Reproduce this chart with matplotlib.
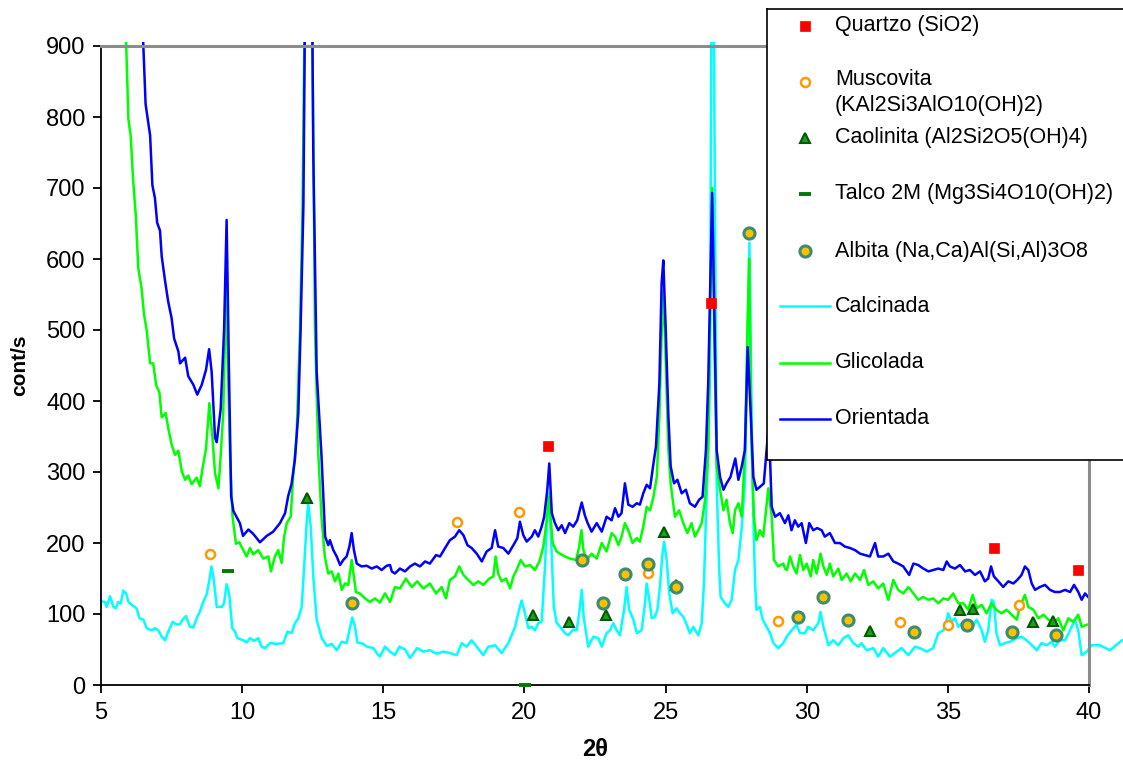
import matplotlib.pyplot as plt
from matplotlib.patches import Rectangle

plt.rcParams['font.family'] = ['Liberation Sans', 'DejaVu Sans']

# --- diffractograms (2theta, counts per second) ---
calc_2t = [5.00, 5.14, 5.20, 5.32, 5.44, 5.53, 5.61, 5.70, 5.79, 5.89, 5.97, 6.09, 6.26, 6.36, 6.50,
           6.62, 6.80, 6.91, 7.03, 7.15, 7.27, 7.38, 7.54, 7.68, 7.80, 7.89, 8.01, 8.15, 8.27, 8.41,
           8.50, 8.62, 8.74, 8.84, 8.91, 8.98, 9.10, 9.28, 9.36, 9.45, 9.54, 9.65, 9.75, 9.83, 10.04,
           10.16, 10.28, 10.42, 10.57, 10.69, 10.81, 10.99, 11.22, 11.46, 11.60, 11.75, 11.87, 11.99,
           12.11, 12.19, 12.29, 12.34, 12.43, 12.52, 12.64, 12.82, 13.00, 13.17, 13.35, 13.53, 13.70,
           13.80, 13.90, 14.00, 14.08, 14.29, 14.41, 14.65, 14.77, 14.88, 15.06, 15.24, 15.41, 15.57,
           15.77, 15.95, 16.20, 16.42, 16.65, 16.89, 17.13, 17.36, 17.60, 17.78, 17.95, 18.13, 18.31,
           18.54, 18.72, 18.96, 19.19, 19.43, 19.67, 19.78, 19.90, 20.02, 20.14, 20.26, 20.37, 20.49,
           20.61, 20.73, 20.79, 20.86, 20.96, 21.04, 21.14, 21.26, 21.44, 21.55, 21.73, 21.85, 21.94,
           22.03, 22.10, 22.26, 22.44, 22.62, 22.74, 22.91, 23.03, 23.15, 23.27, 23.38, 23.53, 23.62,
           23.71, 23.86, 23.98, 24.15, 24.27, 24.33, 24.41, 24.51, 24.62, 24.71, 24.80, 24.88, 24.95,
           25.04, 25.13, 25.25, 25.39, 25.51, 25.63, 25.75, 25.86, 25.98, 26.16, 26.28, 26.36, 26.43,
           26.51, 26.57, 26.63, 26.70, 26.81, 26.90, 26.95, 27.10, 27.22, 27.34, 27.46, 27.58, 27.70,
           27.81, 27.90, 27.97, 28.08, 28.17, 28.22, 28.34, 28.44, 28.58, 28.70, 28.82, 28.99, 29.17,
           29.29, 29.46, 29.64, 29.76, 29.94, 30.05, 30.23, 30.41, 30.49, 30.59, 30.77, 30.94, 31.12,
           31.30, 31.47, 31.65, 31.83, 31.94, 32.12, 32.36, 32.53, 32.71, 32.95, 33.19, 33.36, 33.60,
           33.84, 34.01, 34.25, 34.48, 34.66, 34.84, 34.96, 35.01, 35.13, 35.25, 35.37, 35.55, 35.72,
           35.84, 36.02, 36.20, 36.31, 36.43, 36.55, 36.63, 36.72, 36.85, 37.02, 37.20, 37.44, 37.61,
           37.79, 38.03, 38.15, 38.32, 38.50, 38.68, 38.79, 38.97, 39.15, 39.33, 39.50, 39.62, 39.74,
           39.92, 40.09, 40.39, 40.74, 41.17]
calc_cps = [118, 117, 110, 125, 110, 108, 117, 115, 133, 129, 117, 113, 108, 94, 92,
            80, 77, 80, 77, 68, 63, 75, 89, 85, 86, 92, 97, 82, 81, 96,
            103, 117, 127, 148, 167, 153, 110, 110, 115, 142, 129, 80, 75, 66, 63,
            60, 66, 62, 66, 54, 52, 59, 58, 59, 75, 73, 87, 94,
            110, 162, 232, 256, 223, 153, 92, 66, 55, 58, 49, 61, 59,
            77, 95, 82, 60, 58, 54, 52, 45, 40, 54, 47, 42, 54,
            50, 38, 52, 47, 49, 44, 47, 45, 42, 59, 54, 63, 54,
            42, 54, 56, 45, 59, 82, 101, 119, 101, 80, 82, 77, 87,
            89, 167, 228, 270, 190, 110, 88, 82, 73, 70, 78, 77, 101,
            134, 95, 54, 68, 66, 54, 73, 77, 87, 77, 70, 106, 138,
            106, 92, 73, 77, 115, 143, 124, 94, 96, 106, 138, 181, 202,
            176, 129, 101, 108, 101, 96, 85, 73, 82, 70, 87, 143, 237,
            331, 425, 1000, 1000, 284, 162, 124, 115, 110, 120, 162, 176, 223,
            284, 472, 623, 284, 143, 106, 110, 92, 82, 73, 59, 52, 59,
            68, 77, 85, 73, 73, 82, 77, 87, 103, 82, 56, 63, 56,
            66, 70, 59, 54, 59, 49, 52, 40, 52, 40, 47, 52, 42,
            54, 52, 47, 52, 73, 77, 92, 101, 89, 94, 82, 89, 87,
            80, 92, 77, 61, 77, 120, 117, 73, 56, 59, 61, 66, 68,
            63, 54, 49, 59, 56, 61, 54, 63, 63, 77, 92, 77, 42,
            47, 56, 56, 49, 63]

glic_2t = [5.85, 5.97, 6.05, 6.14, 6.23, 6.32, 6.44, 6.52, 6.62, 6.74, 6.85, 6.95, 7.07, 7.15, 7.29,
           7.38, 7.50, 7.62, 7.74, 7.86, 7.98, 8.09, 8.21, 8.39, 8.50, 8.60, 8.72, 8.84, 8.95, 9.04,
           9.16, 9.24, 9.33, 9.43, 9.57, 9.66, 9.78, 9.90, 10.04, 10.16, 10.28, 10.39, 10.57, 10.75,
           10.93, 11.02, 11.16, 11.28, 11.40, 11.48, 11.58, 11.72, 11.81, 11.93, 12.05, 12.14, 12.36,
           12.58, 12.70, 12.81, 12.93, 13.05, 13.17, 13.29, 13.41, 13.53, 13.64, 13.76, 13.88,
           14.03, 14.17, 14.35, 14.53, 14.71, 14.88, 15.06, 15.24, 15.41, 15.59, 15.80, 16.01, 16.20,
           16.42, 16.65, 16.87, 17.07, 17.22, 17.36, 17.54, 17.69, 17.84, 18.01, 18.19, 18.37, 18.54,
           18.76, 18.90, 18.98, 19.07, 19.19, 19.35, 19.49, 19.61, 19.72, 19.87, 20.02, 20.20, 20.37,
           20.53, 20.67, 20.79, 20.87, 21.00, 21.14, 21.26, 21.44, 21.62, 21.83, 21.94, 22.02, 22.09,
           22.20, 22.38, 22.56, 22.74, 22.91, 23.09, 23.21, 23.33, 23.44, 23.56, 23.68, 23.83, 23.98,
           24.09, 24.21, 24.33, 24.45, 24.57, 24.69, 24.78, 24.86, 24.93, 25.01, 25.10, 25.18, 25.33,
           25.48, 25.63, 25.77, 25.92, 26.04, 26.16, 26.28, 26.40, 26.51, 26.58, 26.65, 26.72, 26.81,
           26.93, 27.05, 27.16, 27.28, 27.38, 27.46, 27.58, 27.70, 27.81, 27.91, 27.96, 28.05, 28.13,
           28.22, 28.34, 28.46, 28.56, 28.64, 28.76, 28.84, 28.99, 29.17, 29.23, 29.30, 29.41, 29.52,
           29.64, 29.76, 29.88, 30.00, 30.14, 30.23, 30.35, 30.49, 30.59, 30.71, 30.82, 30.94, 31.12,
           31.24, 31.41, 31.56, 31.71, 31.89, 32.03, 32.18, 32.36, 32.53, 32.71, 32.89, 33.07, 33.24,
           33.42, 33.60, 33.78, 33.95, 34.13, 34.31, 34.48, 34.66, 34.84, 35.01, 35.19, 35.37, 35.55,
           35.72, 35.88, 36.02, 36.20, 36.37, 36.55, 36.72, 36.90, 37.08, 37.26, 37.44, 37.55, 37.73,
           37.85, 38.03, 38.21, 38.39, 38.56, 38.74, 38.91, 39.09, 39.27, 39.44, 39.62, 39.74, 39.92]
glic_cps = [960, 797, 774, 710, 663, 587, 558, 523, 499, 453, 453, 423, 412, 377, 383,
            362, 339, 324, 330, 301, 289, 295, 283, 292, 280, 306, 333, 397, 347, 298,
            277, 324, 383, 560, 324, 237, 199, 201, 190, 181, 193, 184, 190, 178,
            181, 160, 181, 190, 172, 207, 228, 237, 295, 353, 500, 675, 1500,
            499, 324, 237, 180, 157, 160, 146, 157, 134, 143, 141, 176,
            131, 129, 122, 117, 122, 116, 129, 117, 138, 136, 150, 138, 146,
            136, 143, 129, 138, 122, 148, 153, 167, 155, 148, 141, 146, 141,
            150, 153, 181, 157, 146, 150, 136, 153, 162, 176, 167, 169, 162,
            174, 195, 232, 265, 200, 188, 185, 181, 178, 176, 195, 218, 190,
            176, 185, 178, 200, 188, 214, 209, 197, 209, 228, 218, 200, 207,
            202, 223, 251, 246, 265, 293, 378, 495, 555, 448, 331, 284, 237,
            246, 228, 214, 228, 209, 218, 228, 261, 331, 520, 700, 500, 308,
            275, 246, 261, 228, 214, 246, 256, 237, 331, 519, 600, 331, 237,
            204, 218, 209, 246, 277, 237, 176, 167, 171, 164, 162, 181, 167,
            157, 183, 162, 171, 153, 176, 157, 185, 167, 155, 171, 153, 164,
            148, 157, 146, 157, 148, 162, 141, 146, 136, 143, 120, 148, 134,
            129, 138, 129, 120, 124, 120, 122, 115, 122, 120, 129, 115, 115,
            106, 127, 108, 113, 101, 115, 106, 101, 106, 99, 92, 110, 127,
            110, 106, 94, 99, 92, 87, 94, 77, 94, 89, 99, 82, 85]

orie_2t = [6.45, 6.50, 6.58, 6.74, 6.82, 6.91, 6.99, 7.09, 7.15, 7.27, 7.38, 7.50, 7.59, 7.74, 7.80,
           7.98, 8.09, 8.27, 8.41, 8.57, 8.72, 8.83, 8.92, 9.04, 9.10, 9.24, 9.36, 9.45, 9.53, 9.61,
           9.69, 9.92, 10.03, 10.22, 10.39, 10.63, 10.87, 11.10, 11.34, 11.52, 11.63, 11.75, 11.87,
           11.99, 12.07, 12.17, 12.36, 12.52, 12.64, 12.81, 12.94, 13.05, 13.11, 13.23, 13.35,
           13.47, 13.58, 13.70, 13.80, 13.88, 13.96, 14.06, 14.23, 14.41, 14.59, 14.77, 14.94, 15.12,
           15.24, 15.30, 15.41, 15.59, 15.77, 15.95, 16.12, 16.30, 16.48, 16.65, 16.87, 17.01, 17.19,
           17.36, 17.54, 17.69, 17.84, 17.98, 18.13, 18.31, 18.49, 18.66, 18.84, 18.96, 19.07, 19.25,
           19.43, 19.61, 19.75, 19.84, 19.96, 20.08, 20.26, 20.37, 20.49, 20.61, 20.70, 20.81, 20.88,
           20.97, 21.08, 21.20, 21.32, 21.44, 21.59, 21.73, 21.87, 22.03, 22.14, 22.24, 22.38, 22.56,
           22.74, 22.91, 23.09, 23.21, 23.33, 23.44, 23.56, 23.68, 23.83, 23.98, 24.09, 24.21, 24.33,
           24.45, 24.57, 24.66, 24.78, 24.86, 24.92, 25.01, 25.10, 25.18, 25.30, 25.42, 25.57, 25.72,
           25.86, 26.04, 26.19, 26.31, 26.43, 26.51, 26.58, 26.65, 26.73, 26.81, 26.93, 27.05, 27.16,
           27.30, 27.40, 27.47, 27.58, 27.70, 27.81, 27.91, 28.02, 28.11, 28.22, 28.34, 28.48, 28.56,
           28.64, 28.70, 28.76, 28.88, 29.05, 29.23, 29.35, 29.46, 29.58, 29.70, 29.82, 29.97, 30.09,
           30.23, 30.37, 30.53, 30.64, 30.82, 31.00, 31.18, 31.35, 31.53, 31.71, 31.89, 32.06, 32.24,
           32.42, 32.53, 32.71, 32.89, 33.07, 33.24, 33.42, 33.63, 33.78, 33.95, 34.13, 34.31, 34.48,
           34.66, 34.84, 34.96, 35.07, 35.25, 35.43, 35.61, 35.78, 35.96, 36.14, 36.31, 36.43, 36.53,
           36.63, 36.79, 36.96, 37.14, 37.32, 37.46, 37.61, 37.73, 37.85, 37.97, 38.09, 38.26, 38.44,
           38.62, 38.79, 38.97, 39.15, 39.33, 39.47, 39.62, 39.74, 39.86, 39.97]
orie_cps = [960, 900, 818, 774, 704, 686, 651, 640, 604, 569, 540, 517, 488, 470, 453,
            461, 435, 423, 409, 423, 444, 473, 441, 348, 342, 389, 500, 655, 450, 266,
            245, 228, 210, 219, 213, 201, 210, 216, 228, 242, 266, 283, 318,
            383, 500, 675, 1600, 750, 441, 324, 209, 197, 204, 190, 181,
            169, 176, 181, 195, 214, 190, 171, 167, 168, 164, 167, 162, 168,
            169, 160, 157, 164, 160, 167, 171, 167, 174, 171, 183, 181, 193,
            204, 209, 218, 211, 197, 193, 185, 174, 188, 193, 218, 195, 193,
            185, 197, 207, 230, 211, 202, 209, 218, 209, 223, 237, 275, 312,
            242, 228, 218, 225, 214, 228, 223, 232, 257, 239, 228, 216, 228,
            216, 237, 232, 249, 237, 242, 284, 254, 251, 256, 254, 270, 282,
            277, 312, 336, 425, 566, 598, 495, 378, 308, 284, 289, 270, 275,
            256, 251, 261, 265, 331, 425, 560, 693, 520, 331, 293, 275, 284,
            293, 308, 319, 289, 308, 331, 476, 378, 293, 275, 279, 284, 322,
            360, 320, 251, 237, 242, 228, 239, 218, 232, 223, 228, 200, 228,
            218, 221, 218, 209, 214, 200, 200, 195, 193, 190, 185, 183, 181,
            200, 181, 181, 185, 174, 171, 167, 155, 171, 169, 164, 160, 162,
            164, 162, 174, 167, 164, 169, 160, 162, 155, 160, 146, 150, 167,
            153, 146, 138, 146, 143, 148, 155, 167, 162, 143, 134, 138, 141,
            134, 131, 131, 134, 131, 141, 131, 120, 129, 124]

# --- identified phases (peak position, marker height) ---
quartzo_2t = [20.82, 26.61, 36.63, 39.62]
quartzo_cps = [337, 538, 193, 162]
muscovita_2t = [8.86, 17.62, 19.82, 24.37, 29.00, 33.30, 35.01, 37.52]
muscovita_cps = [185, 230, 244, 158, 90, 89, 85, 112]
caolinita_2t = [12.29, 20.32, 21.59, 22.88, 24.94, 25.37, 32.24, 35.43, 35.90, 38.00, 38.73]
caolinita_cps = [264, 99, 89, 99, 216, 141, 76, 105, 107, 89, 90]
talco_2t = [9.51, 20.02]
talco_cps = [161, 0]
albita_2t = [13.88, 22.03, 22.79, 23.56, 24.39, 25.37, 27.95, 29.68, 30.59, 31.47, 33.81,
             35.67, 37.26, 38.82]
albita_cps = [116, 176, 116, 156, 170, 138, 636, 96, 124, 92, 75, 85, 75, 70]

series = [('Calcinada', calc_2t, calc_cps, '#00FFFF'),
          ('Glicolada', glic_2t, glic_cps, '#00FF00'),
          ('Orientada', orie_2t, orie_cps, '#0000FF')]

phases = [('Quartzo (SiO2)', quartzo_2t, quartzo_cps,
           dict(marker='s', ms=7, mfc='#FF0000', mec='#FF0000', mew=0.5)),
          ('Muscovita\n(KAl2Si3AlO10(OH)2)', muscovita_2t, muscovita_cps,
           dict(marker='o', ms=6.5, mfc='white', mec='#FF9900', mew=1.8)),
          ('Caolinita (Al2Si2O5(OH)4)', caolinita_2t, caolinita_cps,
           dict(marker='^', ms=7.5, mfc='#1E9E1E', mec='#005A00', mew=1.5)),
          ('Talco 2M (Mg3Si4O10(OH)2)', talco_2t, talco_cps,
           dict(marker='_', ms=8, mec='#007A00', mew=2.8)),
          ('Albita (Na,Ca)Al(Si,Al)3O8', albita_2t, albita_cps,
           dict(marker='o', ms=8, mfc='#FFC000', mec='#3D8C6E', mew=2.2))]

W, H = 1123, 760
fig = plt.figure(figsize=(W / 100, H / 100), dpi=100)
ax = fig.add_axes([101 / W, 75 / H, 988 / W, 639 / H])

for name, x, y, col in series:
    ln, = ax.plot(x, y, color=col, lw=1.8, zorder=2)
    # let the traces run a little past the plot frame, like the spreadsheet export
    ln.set_clip_path(Rectangle((0, 0), 1.04, 1.006, transform=ax.transAxes))

for name, x, y, st in phases:
    ax.plot(x, y, ls='none', zorder=4, clip_on=False, **st)

ax.set_xlim(5, 40)
ax.set_ylim(0, 900)
ax.set_xticks(range(5, 41, 5))
ax.set_yticks(range(0, 901, 100))
ax.tick_params(direction='out', length=6, width=1.3, labelsize=17)
ax.tick_params(axis='x', pad=6)
ax.tick_params(axis='y', pad=5)
for s in ('left', 'bottom'):
    ax.spines[s].set_linewidth(1.3)
    ax.spines[s].set_color('black')
for s in ('top', 'right'):
    ax.spines[s].set_linewidth(2.2)
    ax.spines[s].set_color('#8c8c8c')

ax.set_xlabel('2θ', fontsize=17, fontweight='bold', labelpad=10)
ax.set_ylabel('cont/s', fontsize=15, fontweight='bold', labelpad=12)

# legend panel in the upper right corner (pixel coordinates)
lx0, ly0, ly1 = 767, 9, 460
lax = fig.add_axes([lx0 / W, 1 - ly1 / H, (W + 15 - lx0) / W, (ly1 - ly0) / H])
lax.set_xlim(lx0, W + 15)
lax.set_ylim(ly1, ly0)
lax.set_xticks([])
lax.set_yticks([])
lax.set_facecolor('white')
for s in lax.spines.values():
    s.set_linewidth(1.2)
    s.set_color('black')

key_x, text_x = 805, 835
phase_rows = [26, 82, 138, 194, 251]
for (name, x, y, st), yy in zip(phases, phase_rows):
    lax.plot([key_x], [yy], ls='none', **st)
    if '\n' in name:
        lax.text(text_x, yy - 13, name, va='top', ha='left', fontsize=15.5, linespacing=1.32)
    else:
        lax.text(text_x, yy, name, va='center', ha='left', fontsize=15.5)

series_rows = [306, 363, 419]
for (name, x, y, col), yy in zip(series, series_rows):
    lax.plot([780, 830], [yy, yy], color=col, lw=1.8)
    lax.text(text_x, yy, name, va='center', ha='left', fontsize=15.5)

fig.savefig('out.png', dpi=100)
